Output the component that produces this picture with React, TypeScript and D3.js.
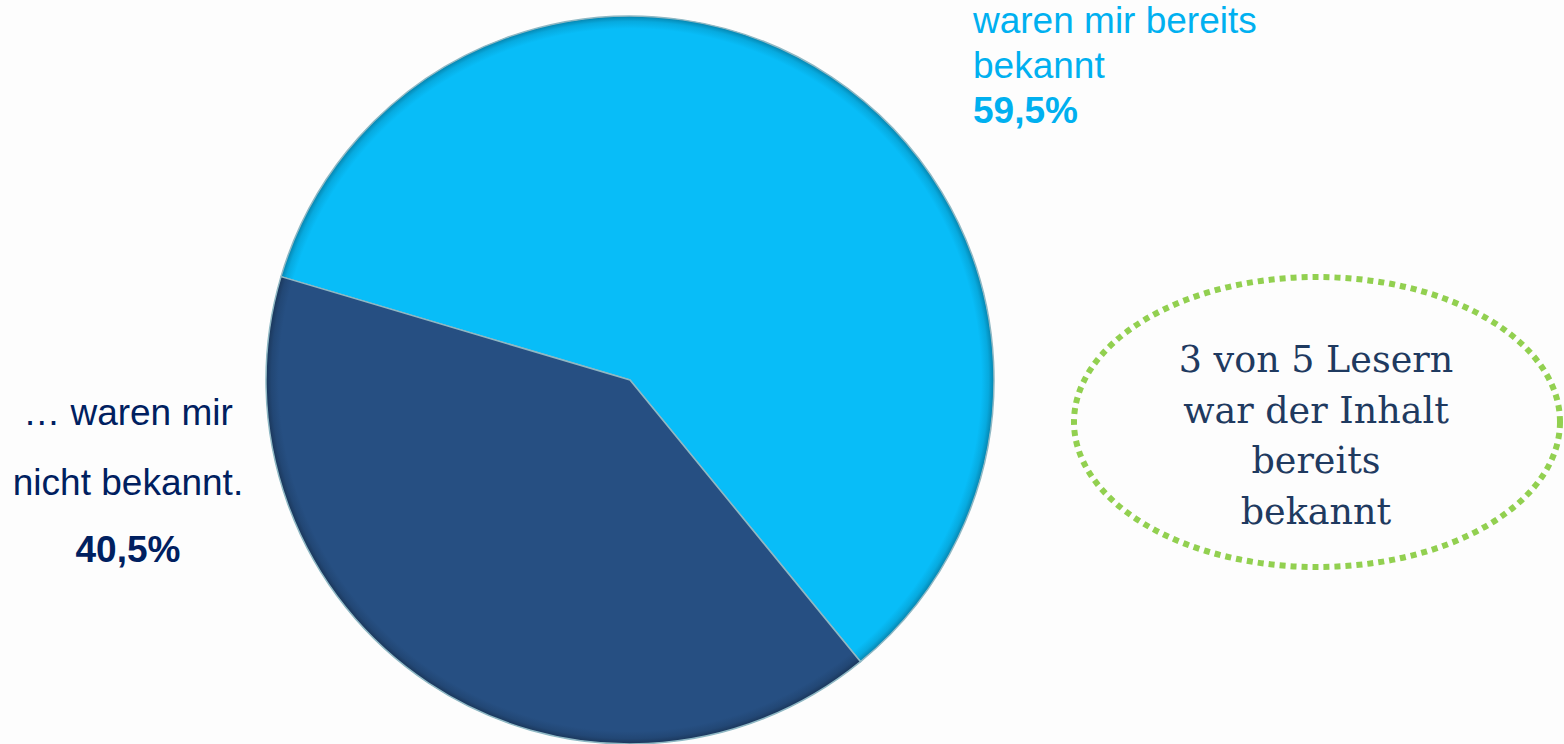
import React from "react";
import * as d3 from "d3";

const categories = ["waren mir bereits bekannt", "… waren mir nicht bekannt."];
const values = [59.5, 40.5];
const valueLabels = ["59,5%", "40,5%"];
const sliceColors = ["#08bdf8", "#264f82"];
const calloutLines = ["3 von 5 Lesern", "war der Inhalt", "bereits", "bekannt"];

const W = 1564;
const H = 744;

export default function App() {
  const cx = 630;
  const cy = 380;
  const r = 364;
  const pie = d3
    .pie<number>()
    .sort(null)
    .startAngle((-73.5 * Math.PI) / 180)
    .endAngle((-73.5 * Math.PI) / 180 + 2 * Math.PI);
  const arcs = pie(values);
  const arc = d3.arc<d3.PieArcDatum<number>>().innerRadius(0).outerRadius(r);

  return (
    <svg
      width={W}
      height={H}
      style={{ position: "absolute", left: 0, top: 0, background: "#fdfdfd" }}
    >
      <defs>
        {sliceColors.map((c, i) => (
          <radialGradient
            key={i}
            id={`g${i}`}
            cx={0}
            cy={0}
            r={r}
            gradientUnits="userSpaceOnUse"
          >
            <stop offset="0" stopColor={c} />
            <stop offset="0.965" stopColor={c} />
            <stop offset="0.985" stopColor={d3.color(c)!.darker(0.3).toString()} />
            <stop offset="1" stopColor={d3.color(c)!.darker(1.0).toString()} />
          </radialGradient>
        ))}
      </defs>
      <g transform={`translate(${cx},${cy})`}>
        {arcs.map((a, i) => (
          <path
            key={i}
            d={arc(a) || ""}
            fill={`url(#g${i})`}
            stroke="#8fb8c4"
            strokeWidth={1.5}
            strokeLinejoin="round"
          />
        ))}
      </g>

      {/* top-right label */}
      <g fontFamily="Liberation Sans, Arial, sans-serif" fontSize={37} fill="#00b0f0">
        <text x={973} y={33}>waren mir bereits</text>
        <text x={973} y={78}>bekannt</text>
        <text x={973} y={123} fontWeight="bold">{valueLabels[0]}</text>
      </g>

      {/* left label */}
      <g
        fontFamily="Liberation Sans, Arial, sans-serif"
        fontSize={37}
        fill="#002060"
        textAnchor="middle"
      >
        <text x={128} y={425}>… waren mir</text>
        <text x={128} y={495}>nicht bekannt.</text>
        <text x={128} y={562} fontWeight="bold">{valueLabels[1]}</text>
      </g>

      {/* callout */}
      <ellipse
        cx={1317}
        cy={422}
        rx={243}
        ry={145}
        fill="none"
        stroke="#92d050"
        strokeWidth={6}
        strokeDasharray="6 5"
      />
      <g
        fontFamily="DejaVu Serif, Georgia, serif"
        fontSize={36.5}
        fill="#1f3a60"
        textAnchor="middle"
      >
        {calloutLines.map((t, i) => (
          <text key={i} x={1316} y={372 + i * 50.5}>
            {t}
          </text>
        ))}
      </g>
    </svg>
  );
}
